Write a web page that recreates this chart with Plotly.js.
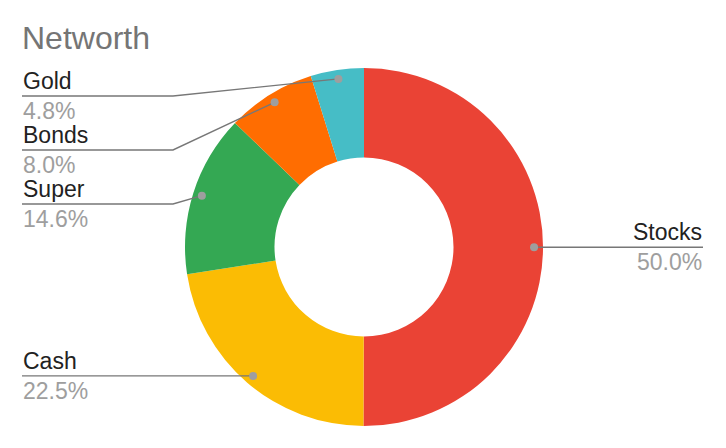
<!DOCTYPE html>
<html>
<head>
<meta charset="utf-8">
<script src="https://cdn.plot.ly/plotly-3.0.1.min.js"></script>
<style>html,body{margin:0;padding:0;background:#fff;}#chart{width:726px;height:448px;}</style>
</head>
<body>
<div id="chart"></div>
<script>
// ---- data ----
const categories = ['Stocks', 'Cash', 'Super', 'Bonds', 'Gold'];
const shares = [50.0, 22.5, 14.6, 8.0, 4.8];
const chartTitle = 'Networth';

// ---- layout / style ----
const W = 726, H = 448;
const colors = ['#ea4335', '#fbbc04', '#34a853', '#ff6d01', '#46bdc6'];
const cx = 364, cy = 247, R = 179;
const FONT = 'Arial, "Liberation Sans", Helvetica, sans-serif';
const labelSide = ['right', 'left', 'left', 'left', 'left'];
const labelLineY = [null, null, 204, 150, 96]; // null -> at dot height
const leftX = 22, elbowX = 173, rightX = 703;

const px = x => x / W;
const py = y => 1 - y / H;

const total = shares.reduce((a, b) => a + b, 0);
const shapes = [];
const annotations = [];
let cum = 0;
shares.forEach((v, i) => {
  const mid = (cum + v / 2) / total * 2 * Math.PI;
  cum += v;
  const rd = R * 0.95;
  const dx = cx + rd * Math.sin(mid);
  const dy = cy - rd * Math.cos(mid);
  const ly = labelLineY[i] == null ? dy : labelLineY[i];
  const line = {type: 'path', xref: 'paper', yref: 'paper', line: {color: '#777777', width: 1.4}};
  if (labelSide[i] === 'right') {
    line.path = `M ${px(dx)} ${py(dy)} L ${px(rightX)} ${py(ly)}`;
  } else if (labelLineY[i] == null) {
    line.path = `M ${px(leftX)} ${py(ly)} L ${px(dx)} ${py(dy)}`;
  } else {
    line.path = `M ${px(leftX)} ${py(ly)} L ${px(elbowX)} ${py(ly)} L ${px(dx)} ${py(dy)}`;
  }
  shapes.push(line);
  shapes.push({type: 'circle', xref: 'paper', yref: 'paper', xsizemode: 'pixel', ysizemode: 'pixel',
    xanchor: px(dx), yanchor: py(dy), x0: -4, x1: 4, y0: -4, y1: 4,
    fillcolor: '#9e9e9e', line: {width: 0}});
  const ax = labelSide[i] === 'right' ? px(rightX) : px(leftX);
  const xa = labelSide[i] === 'right' ? 'right' : 'left';
  annotations.push({xref: 'paper', yref: 'paper', x: ax, xanchor: xa, y: py(ly - 1), yanchor: 'bottom',
    text: categories[i], showarrow: false, borderpad: 0,
    font: {family: FONT, size: 23, color: '#222222'}});
  annotations.push({xref: 'paper', yref: 'paper', x: ax, xanchor: xa, y: py(ly + 1), yanchor: 'top',
    text: v.toFixed(1) + '%', showarrow: false, borderpad: 0,
    font: {family: FONT, size: 23, color: '#9e9e9e'}});
});

const trace = {
  type: 'pie',
  labels: categories,
  values: shares,
  hole: 0.5,
  sort: false,
  direction: 'clockwise',
  rotation: 0,
  textinfo: 'none',
  textposition: 'none',
  hoverinfo: 'label+percent',
  marker: {colors: colors, line: {width: 0}},
  domain: {x: [px(cx - R), px(cx + R)], y: [py(cy + R), py(cy - R)]},
  showlegend: false
};

const layout = {
  width: W, height: H,
  margin: {l: 0, r: 0, t: 0, b: 0},
  paper_bgcolor: '#ffffff',
  showlegend: false,
  title: {text: chartTitle, x: px(leftX), xanchor: 'left', xref: 'paper', y: 1 - 27 / H, yanchor: 'top',
    font: {family: FONT, size: 32, color: '#757575'}},
  shapes: shapes,
  annotations: annotations
};

Plotly.newPlot('chart', [trace], layout, {displayModeBar: false, staticPlot: true});
</script>
</body>
</html>
